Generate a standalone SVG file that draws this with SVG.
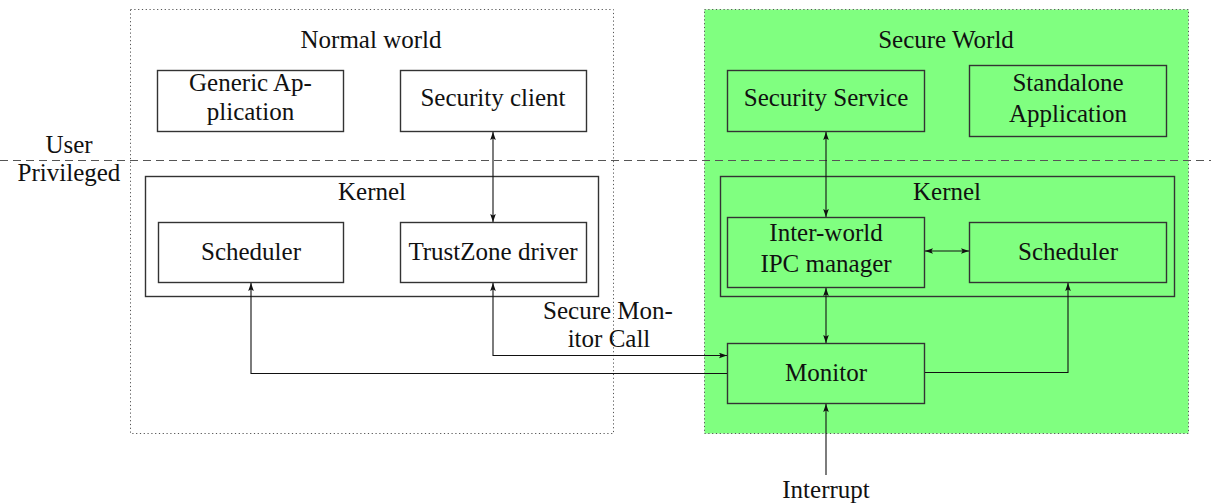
<svg xmlns="http://www.w3.org/2000/svg" width="1211" height="504" viewBox="0 0 1211 504">
  <style>
    text { font-family: "Liberation Serif", "Times New Roman", serif; font-size: 25px; fill: #111; text-anchor: middle; }
    .box { fill: none; stroke: #333; stroke-width: 1.4; }
    .sbox { fill: #80ff80; stroke: #333; stroke-width: 1.4; }
    .world { stroke: #555; stroke-width: 1; stroke-dasharray: 1.2 2.6; }
    .divider { fill: none; stroke: #555; stroke-width: 1.2; stroke-dasharray: 8 5; }
    .conn { fill: none; stroke: #111; stroke-width: 1.1; }
    .one { marker-end: url(#tip); }
    .two { marker-start: url(#tip); marker-end: url(#tip); }
  </style>
  <defs>
    <marker id="tip" viewBox="0 0 8 6" refX="8" refY="3" markerWidth="8" markerHeight="6" markerUnits="userSpaceOnUse" orient="auto-start-reverse">
      <path d="M0,0.2 L8,3 L0,5.8 L1.6,3 z" fill="#111"/>
    </marker>
  </defs>

  <rect width="1211" height="504" fill="#fff"/>

  <!-- world containers -->
  <g id="normal-world">
    <rect class="world" x="130.5" y="9.5" width="483" height="424" fill="none"/>
    <text x="371" y="48">Normal world</text>
  </g>
  <g id="secure-world">
    <rect class="world" x="704.5" y="9.5" width="484" height="424" fill="#80ff80"/>
    <text x="946" y="48">Secure World</text>
  </g>

  <!-- user / privileged boundary -->
  <g id="privilege-boundary">
    <line class="divider" x1="0" y1="160.5" x2="1211" y2="160.5"/>
    <text x="69" y="153">User</text>
    <text x="69" y="181">Privileged</text>
  </g>

  <!-- normal world nodes -->
  <g id="generic-application">
    <rect class="box" x="157.5" y="70.5" width="186" height="61"/>
    <text x="250.5" y="91">Generic Ap-</text>
    <text x="250.5" y="120">plication</text>
  </g>
  <g id="security-client">
    <rect class="box" x="400.5" y="70.5" width="186" height="61"/>
    <text x="493" y="106">Security client</text>
  </g>
  <g id="normal-kernel">
    <rect class="box" x="145.5" y="176.5" width="453" height="120"/>
    <text x="372" y="200">Kernel</text>
  </g>
  <g id="normal-scheduler">
    <rect class="box" x="158.5" y="222.5" width="185" height="60"/>
    <text x="251" y="260">Scheduler</text>
  </g>
  <g id="trustzone-driver">
    <rect class="box" x="400.5" y="222.5" width="186" height="60"/>
    <text x="493" y="260">TrustZone driver</text>
  </g>

  <!-- secure world nodes -->
  <g id="security-service">
    <rect class="sbox" x="727.5" y="70.5" width="197" height="61"/>
    <text x="826" y="106">Security Service</text>
  </g>
  <g id="standalone-application">
    <rect class="sbox" x="969.5" y="65.5" width="197" height="71"/>
    <text x="1068" y="91">Standalone</text>
    <text x="1068" y="122">Application</text>
  </g>
  <g id="secure-kernel">
    <rect class="sbox" x="720.5" y="176.5" width="454" height="120"/>
    <text x="947" y="200">Kernel</text>
  </g>
  <g id="ipc-manager">
    <rect class="sbox" x="727.5" y="217.5" width="197" height="70"/>
    <text x="826" y="241">Inter-world</text>
    <text x="826" y="272">IPC manager</text>
  </g>
  <g id="secure-scheduler">
    <rect class="sbox" x="969.5" y="222.5" width="197" height="60"/>
    <text x="1068" y="260">Scheduler</text>
  </g>
  <g id="monitor">
    <rect class="sbox" x="727.5" y="343.5" width="197" height="60"/>
    <text x="826" y="381">Monitor</text>
  </g>

  <!-- connectors -->
  <g id="connectors">
    <path class="conn two" d="M493,132 V222"/>
    <path class="conn two" d="M826,132 V217"/>
    <path class="conn two" d="M925,251 H969"/>
    <path class="conn two" d="M826,288 V343"/>
    <path class="conn one" d="M925,372.5 H1068 V283"/>
    <path class="conn one" d="M727,373.5 H251 V283"/>
    <path class="conn two" d="M493,283 V355.5 H727"/>
    <path class="conn one" d="M826,475 V404"/>
    <text x="608" y="319">Secure Mon-</text>
    <text x="609" y="347">itor Call</text>
    <text x="826" y="498">Interrupt</text>
  </g>
</svg>
